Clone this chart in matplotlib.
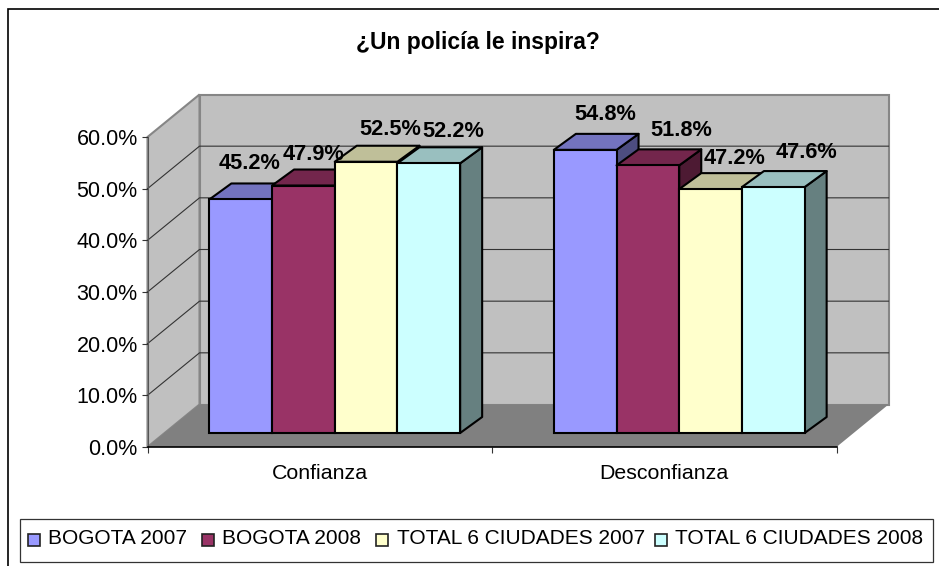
import matplotlib
matplotlib.use('Agg')
import matplotlib.pyplot as plt
from matplotlib.patches import Polygon, Rectangle

categories = ['Confianza', 'Desconfianza']
series = ['BOGOTA 2007', 'BOGOTA 2008', 'TOTAL 6 CIUDADES 2007', 'TOTAL 6 CIUDADES 2008']
bogota_2007 = [45.2, 54.8]
bogota_2008 = [47.9, 51.8]
total_2007 = [52.5, 47.2]
total_2008 = [52.2, 47.6]
yticks = [0, 10, 20, 30, 40, 50, 60]

values = [bogota_2007, bogota_2008, total_2007, total_2008]
front_colors = ['#9999ff', '#993366', '#ffffcc', '#ccffff']
top_colors = ['#7373bf', '#73264c', '#bfbf99', '#99bfbf']
side_colors = ['#4d4d80', '#4d1a33', '#808066', '#668080']

W, H = 939, 566
plt.rcParams['font.family'] = ['Liberation Sans', 'DejaVu Sans']
fig = plt.figure(figsize=(W / 100, H / 100), dpi=100)

# plot box of the front plane, in pixels of the picture
left, right, bottom, top = 147.5, 836.5, 447, 137
ax = fig.add_axes([left / W, 1 - bottom / H, (right - left) / W, (bottom - top) / H])
ax.set_xlim(0, 2)
ax.set_ylim(0, 60)
ax.patch.set_visible(False)

px = 2 / (right - left)
py = 60 / (bottom - top)

# depth of the box, of the bars, and where the bars start
box_dx, box_dy = 52 * px, 42.5 * py
bar_dx, bar_dy = 22 * px, 16 * py
off_x, off_y = 15 * px, 14 * py
bar_w = 62.7 * px

wall = '#c0c0c0'
floor = '#808080'
edge = '#868686'

# walls and floor
ax.add_patch(Polygon([(box_dx, box_dy), (2 + box_dx, box_dy), (2 + box_dx, 60 + box_dy), (box_dx, 60 + box_dy)],
                     facecolor=wall, edgecolor=edge, linewidth=1.5, clip_on=False, zorder=1))
ax.add_patch(Polygon([(0, 0), (box_dx, box_dy), (box_dx, 60 + box_dy), (0, 60)],
                     facecolor=wall, edgecolor=edge, linewidth=1.5, clip_on=False, zorder=1))
ax.add_patch(Polygon([(0, 0), (2, 0), (2 + box_dx, box_dy), (box_dx, box_dy)],
                     facecolor=floor, edgecolor='none', clip_on=False, zorder=1.5))

for t in yticks[1:-1]:
    ax.plot([0, box_dx, 2 + box_dx], [t, t + box_dy, t + box_dy], color='#333333', linewidth=0.8,
            clip_on=False, zorder=2)

# bars, left to right so each one covers the side of the one before
z = 3
for c in range(len(categories)):
    start = c + 0.5 - 2 * bar_w + off_x
    for s in range(len(series)):
        v = values[s][c]
        x0 = start + s * bar_w
        x1 = x0 + bar_w
        y0 = off_y
        y1 = off_y + v
        ax.add_patch(Polygon([(x1, y0), (x1 + bar_dx, y0 + bar_dy), (x1 + bar_dx, y1 + bar_dy), (x1, y1)],
                             facecolor=side_colors[s], edgecolor='black', linewidth=1.5,
                             joinstyle='round', clip_on=False, zorder=z))
        ax.add_patch(Polygon([(x0, y1), (x1, y1), (x1 + bar_dx, y1 + bar_dy), (x0 + bar_dx, y1 + bar_dy)],
                             facecolor=top_colors[s], edgecolor='black', linewidth=1.5,
                             joinstyle='round', clip_on=False, zorder=z))
        ax.bar(x0, v, bar_w, bottom=y0, align='edge', color=front_colors[s], edgecolor='black',
               linewidth=1.5, clip_on=False, zorder=z + 0.5)
        z += 1

# data labels sit over everything, each was nudged by hand in the original
label_shift = [[(9, 35.5), (10, 31.5), (24, 32.7), (24.5, 32)],
               [(20, 35), (33, 35), (24, 31), (33, 35)]]
for c in range(len(categories)):
    start = c + 0.5 - 2 * bar_w + off_x
    for s in range(len(series)):
        v = values[s][c]
        xc = start + (s + 0.5) * bar_w
        ax.annotate('%.1f%%' % v, (xc, off_y + v), xytext=label_shift[c][s], textcoords='offset pixels',
                    ha='center', va='center', fontsize=15.7, fontweight='bold', color='black',
                    zorder=100, annotation_clip=False)

for sp in ['top', 'right']:
    ax.spines[sp].set_visible(False)
ax.spines['left'].set_color('#555555')
ax.spines['left'].set_linewidth(0.8)
ax.spines['left'].set_zorder(10)
ax.spines['bottom'].set_color('black')
ax.spines['bottom'].set_linewidth(1.2)
ax.spines['bottom'].set_zorder(10)

ax.set_yticks(yticks)
ax.set_yticklabels(['%.1f%%' % t for t in yticks])
ax.set_xticks([0, 1, 2])
ax.set_xticklabels([])
ax.set_xticks([0.5, 1.5], minor=True)
ax.set_xticklabels(categories, minor=True)
ax.tick_params(axis='y', length=4, width=0.8, labelsize=15.5, pad=3, direction='out', color='#333333')
ax.tick_params(axis='x', which='major', length=4.5, width=0.8, direction='out', color='#333333')
ax.tick_params(axis='x', which='minor', length=0, labelsize=15.4, pad=12.5)

fig.text(477.5 / W, 1 - 42.5 / H, '¿Un policía le inspira?', ha='center', va='center', fontsize=16.5, fontweight='bold')

# outer frame and legend box
fig.add_artist(Rectangle((7.5 / W, -0.01), 2, 1.01 - 8.5 / H, transform=fig.transFigure, facecolor='none',
                         edgecolor='black', linewidth=1.2))
fig.add_artist(Rectangle((20 / W, 1 - 562 / H), 913 / W, 43 / H, transform=fig.transFigure, facecolor='white',
                         edgecolor='#333333', linewidth=0.9))

swatch_x = [28, 202, 376, 655]
text_x = [48, 222, 397, 675]
for s, name in enumerate(series):
    fig.add_artist(Rectangle((swatch_x[s] / W, 1 - 545.5 / H), 12 / W, 12 / H, transform=fig.transFigure,
                             facecolor=front_colors[s], edgecolor='#222222', linewidth=1.2))
    fig.text(text_x[s] / W, 1 - 539 / H, name, ha='left', va='center', fontsize=15, color='black')

fig.savefig('out.png', dpi=100)
